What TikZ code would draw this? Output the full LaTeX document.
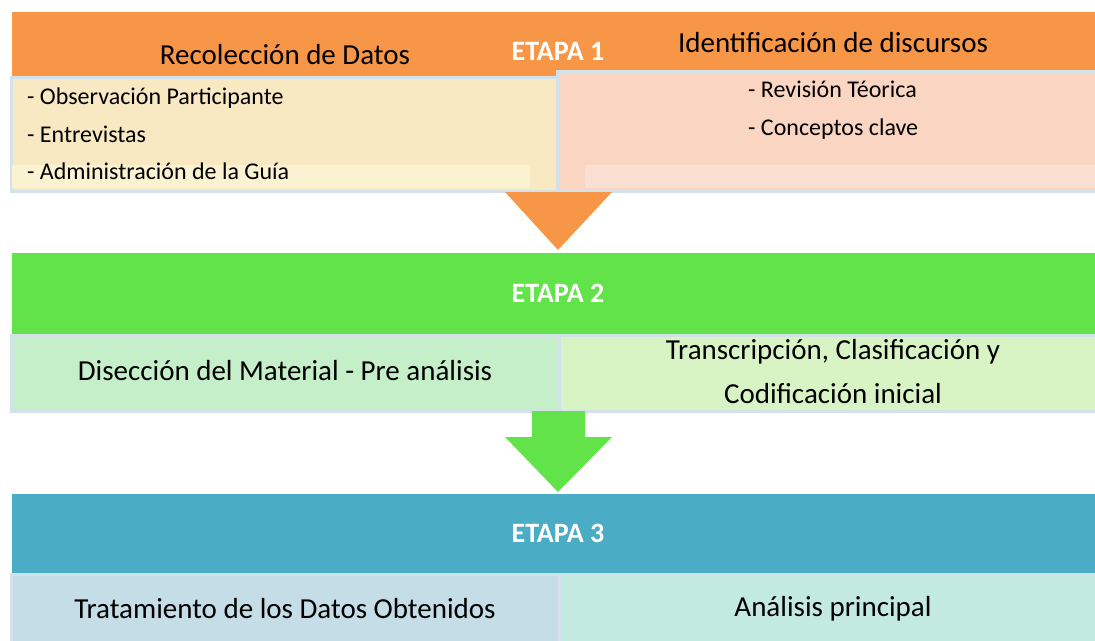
\documentclass[tikz,border=0pt]{standalone}
\usepackage{fontspec}
\setmainfont{Carlito}
\definecolor{etapaA}{HTML}{F79646}
\definecolor{etapaB}{HTML}{62E34A}
\definecolor{etapaC}{HTML}{4BACC6}
\definecolor{cremaA}{HTML}{F8E9C2}
\definecolor{cremaB}{HTML}{FAF2D0}
\definecolor{rosaA}{HTML}{FAD5C2}
\definecolor{rosaB}{HTML}{FBDFD2}
\definecolor{verdeA}{HTML}{C4EFC9}
\definecolor{verdeB}{HTML}{D8F4C5}
\definecolor{azulA}{HTML}{C4DDE6}
\definecolor{azulB}{HTML}{C2EAE1}
\definecolor{borde}{HTML}{D3E2EA}

\begin{document}
\begin{tikzpicture}[x=1pt,y=-1pt,
  band/.style={inner sep=0pt,anchor=north west,minimum width=1090pt},
  box/.style={draw=borde,line width=3pt,inner sep=0pt,anchor=north west},
  etapa/.style={text=white,font=\bfseries\fontsize{28}{32}\selectfont},
  titulo/.style={font=\fontsize{29}{35}\selectfont},
  item/.style={font=\fontsize{24}{28}\selectfont,anchor=west,inner sep=0pt}]

  \clip (0,0) rectangle (1095,640);

  % etapa 1
  \node[band,fill=etapaA,minimum height=180pt] (banda1) at (12,12) {};
  \node[box,fill=cremaA,minimum width=548pt,minimum height=114pt] (datos) at (10,76) {};
  \node[box,fill=rosaA,minimum width=545pt,minimum height=120pt] (discursos) at (556,70) {};
  \fill[cremaB] (12,165) rectangle (530,188);
  \fill[rosaB] (585,165) rectangle (1095,188);
  \node[titulo] (tdatos) at (285,55) {Recolección de Datos};
  \node[etapa] (e1) at (558,51) {ETAPA 1};
  \node[titulo] (tdisc) at (833,43) {Identificación de discursos};
  \node[item] (obs) at (27,98) {- Observación Participante};
  \node[item] (ent) at (27,134) {- Entrevistas};
  \node[item] (guia) at (27,171) {- Administración de la Guía};
  \node[item] (rev) at (748,89) {- Revisión Téorica};
  \node[item] (conc) at (748,129) {- Conceptos clave};
  \fill[etapaA] (505,192) -- (612,192) -- (558,250) -- cycle;

  % etapa 2
  \node[band,fill=etapaB,minimum height=81pt] (banda2) at (12,253) {};
  \node[etapa] (e2) at (558,293) {ETAPA 2};
  \node[box,fill=verdeA,minimum width=548pt,minimum height=76pt] (mat) at (10,334) {};
  \node[box,fill=verdeB,minimum width=545pt,minimum height=76pt] (trans) at (558,334) {};
  \node[titulo] (tmat) at (285,371) {Disección del Material - Pre análisis};
  \node[titulo,align=center] (ttrans) at (833,372) {Transcripción, Clasificación y\\[9pt]Codificación inicial};
  \fill[etapaB] (532,411) -- (585,411) -- (585,437) -- (612,437) -- (558,492)
    -- (505,437) -- (532,437) -- cycle;

  % etapa 3
  \node[band,fill=etapaC,minimum height=79pt] (banda3) at (12,494) {};
  \node[etapa] (e3) at (558,533) {ETAPA 3};
  \node[box,fill=azulA,minimum width=548pt,minimum height=76pt] (trat) at (10,573) {};
  \node[box,fill=azulB,minimum width=545pt,minimum height=76pt] (anal) at (558,573) {};
  \node[titulo] (ttrat) at (285,609) {Tratamiento de los Datos Obtenidos};
  \node[titulo] (tanal) at (833,609) {Análisis principal};
\end{tikzpicture}
\end{document}
